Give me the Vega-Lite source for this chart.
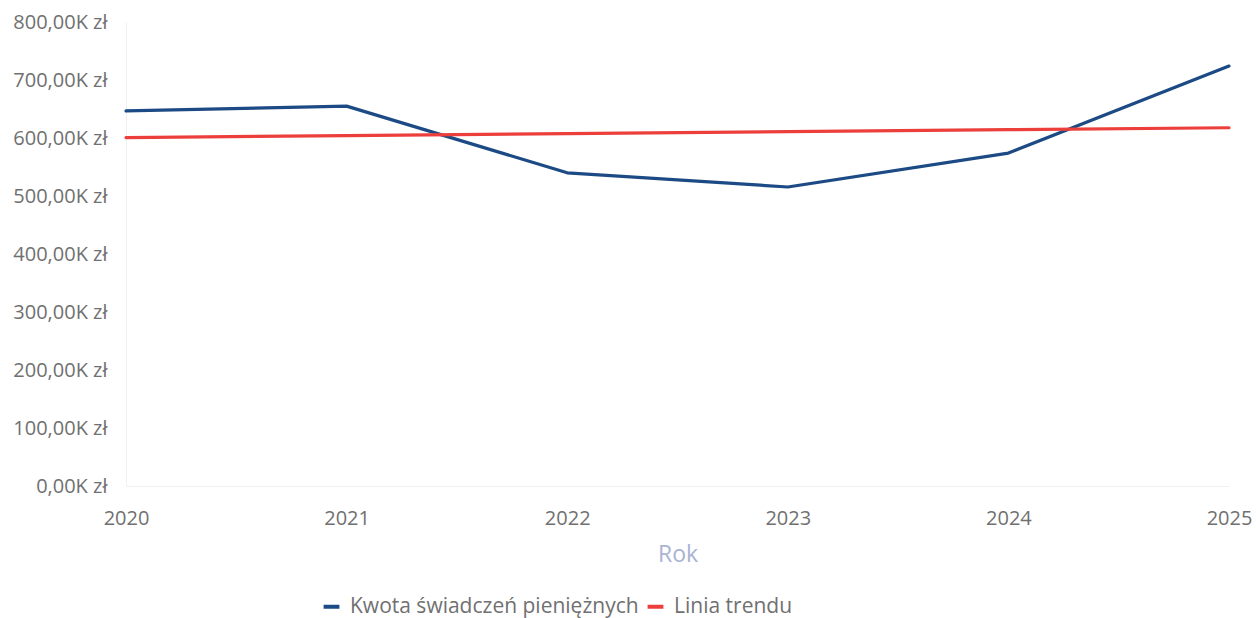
{
  "$schema": "https://vega.github.io/schema/vega-lite/v6.json",
  "autosize": {"type": "none"},
  "width": 1103,
  "height": 464,
  "padding": {"left": 126, "top": 22, "right": 27, "bottom": 132},
  "background": "white",
  "config": {
    "font": "Open Sans",
    "view": {"stroke": null}
  },
  "data": {
    "values": [
      {"rok": 2020, "seria": "Kwota świadczeń pieniężnych", "wartosc": 646600},
      {"rok": 2021, "seria": "Kwota świadczeń pieniężnych", "wartosc": 655000},
      {"rok": 2022, "seria": "Kwota świadczeń pieniężnych", "wartosc": 540000},
      {"rok": 2023, "seria": "Kwota świadczeń pieniężnych", "wartosc": 515500},
      {"rok": 2024, "seria": "Kwota świadczeń pieniężnych", "wartosc": 574000},
      {"rok": 2025, "seria": "Kwota świadczeń pieniężnych", "wartosc": 724000},
      {"rok": 2020, "seria": "Linia trendu", "wartosc": 600700},
      {"rok": 2021, "seria": "Linia trendu", "wartosc": 604100},
      {"rok": 2022, "seria": "Linia trendu", "wartosc": 607500},
      {"rok": 2023, "seria": "Linia trendu", "wartosc": 610900},
      {"rok": 2024, "seria": "Linia trendu", "wartosc": 614300},
      {"rok": 2025, "seria": "Linia trendu", "wartosc": 617700}
    ]
  },
  "mark": {"type": "line", "strokeWidth": 3.2, "strokeCap": "round", "strokeJoin": "round"},
  "encoding": {
    "x": {
      "field": "rok",
      "type": "quantitative",
      "scale": {"domain": [2020, 2025], "nice": false, "zero": false},
      "axis": {
        "title": "Rok",
        "values": [2020, 2021, 2022, 2023, 2024, 2025],
        "format": "d",
        "labelFlush": false,
        "grid": false,
        "ticks": false,
        "domain": true,
        "domainColor": "#f0f0f0",
        "labelFontSize": 20,
        "labelColor": "#707070",
        "labelPadding": 22,
        "titleFontSize": 23,
        "titleFontWeight": "normal",
        "titleColor": "#a9b3d3",
        "titlePadding": 15
      }
    },
    "y": {
      "field": "wartosc",
      "type": "quantitative",
      "scale": {"domain": [0, 800000], "nice": false},
      "axis": {
        "title": null,
        "values": [0, 100000, 200000, 300000, 400000, 500000, 600000, 700000, 800000],
        "labelExpr": "replace(format(datum.value / 1000, '.2f'), '.', ',') + 'K zł'",
        "grid": false,
        "ticks": false,
        "domain": true,
        "domainColor": "#f0f0f0",
        "labelFontSize": 20,
        "labelColor": "#707070",
        "labelPadding": 19
      }
    },
    "color": {
      "field": "seria",
      "type": "nominal",
      "scale": {
        "domain": ["Kwota świadczeń pieniężnych", "Linia trendu"],
        "range": ["#1c4a85", "#ec3f3c"]
      },
      "legend": {
        "title": null,
        "orient": "none",
        "direction": "horizontal",
        "legendX": 195,
        "legendY": 574,
        "symbolType": "stroke",
        "symbolStrokeWidth": 4,
        "symbolSize": 250,
        "labelFontSize": 21,
        "labelColor": "#707070",
        "labelLimit": 0,
        "columnPadding": 0,
        "labelOffset": 8
      }
    }
  }
}
